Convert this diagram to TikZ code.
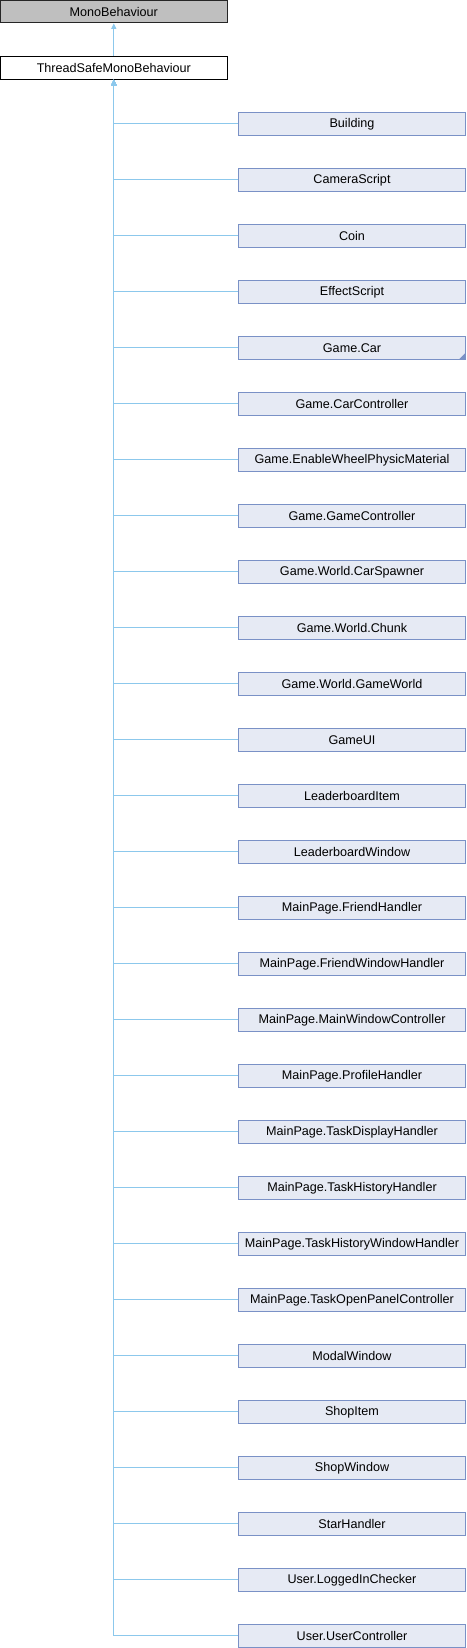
\documentclass[tikz,border=0pt]{standalone}
\usepackage{fontspec}
\setmainfont{Liberation Sans}
\usetikzlibrary{arrows.meta}
\definecolor{edgeblue}{HTML}{8CC8EC}
\definecolor{childfill}{HTML}{E6EAF4}
\definecolor{childdraw}{HTML}{7A91C6}
\definecolor{grayfill}{HTML}{BFBFBF}
\begin{document}
\begin{tikzpicture}[x=1pt,y=-1pt,
  cls/.style={rectangle, minimum width=226.5pt, minimum height=22.6pt, inner sep=0pt, line width=1pt, font=\fontsize{12.6}{14}\selectfont},
  basecls/.style={cls, draw=black!85, fill=grayfill},
  midcls/.style={cls, draw=black, fill=white},
  childcls/.style={cls, draw=childdraw, fill=childfill},
  inh/.style={draw=edgeblue, line width=1pt, {Triangle[width=5pt,length=5.5pt,fill=edgeblue]}-}]
\useasboundingbox (0,0) rectangle (466,1648);
\node[basecls] (mb) at (113.8,11.6) {MonoBehaviour};
\node[midcls] (tsmb) at (113.8,68) {ThreadSafeMonoBehaviour};
\draw[inh] (mb.south) -- (tsmb.north);
\foreach \name [count=\i from 0] in {Building,CameraScript,Coin,EffectScript,Game.Car,Game.CarController,Game.EnableWheelPhysicMaterial,Game.GameController,Game.World.CarSpawner,Game.World.Chunk,Game.World.GameWorld,GameUI,LeaderboardItem,LeaderboardWindow,MainPage.FriendHandler,MainPage.FriendWindowHandler,MainPage.MainWindowController,MainPage.ProfileHandler,MainPage.TaskDisplayHandler,MainPage.TaskHistoryHandler,MainPage.TaskHistoryWindowHandler,MainPage.TaskOpenPanelController,ModalWindow,ShopItem,ShopWindow,StarHandler,User.LoggedInChecker,User.UserController}{
  \node[childcls] (c\i) at (352,123.8+56*\i) {\name};
  \draw[inh] (tsmb.south) |- (c\i.west);
}
\fill[childdraw] ([xshift=-0.5pt,yshift=0.5pt]c4.south east) -- ++(0,-6) -- ++(-6,6) -- cycle;
\end{tikzpicture}
\end{document}
